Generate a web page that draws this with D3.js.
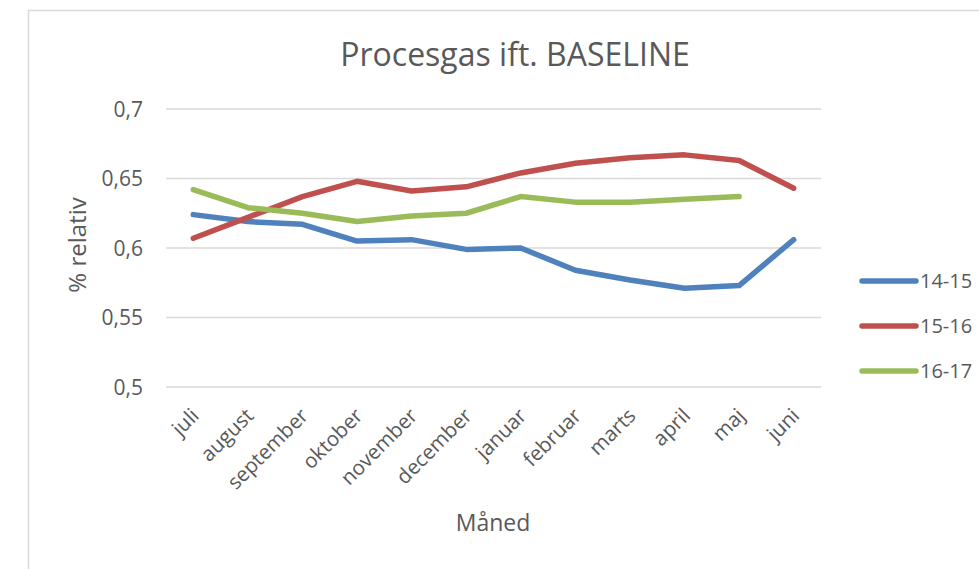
<!DOCTYPE html>
<html>
<head>
<meta charset="utf-8">
<script src="https://cdn.jsdelivr.net/npm/d3@7"></script>
<style>
  body { margin: 0; background: #fff; }
  text { font-family: "Open Sans", sans-serif; fill: #595959; }
</style>
</head>
<body>
<div id="container"></div>
<script>
const months = ["juli", "august", "september", "oktober", "november", "december",
    "januar", "februar", "marts", "april", "maj", "juni"];

const s1415 = [0.624, 0.619, 0.617, 0.605, 0.606, 0.599, 0.600, 0.584, 0.577, 0.571, 0.573, 0.606];
const s1516 = [0.607, 0.622, 0.637, 0.648, 0.641, 0.644, 0.654, 0.661, 0.665, 0.667, 0.663, 0.643];
const s1617 = [0.642, 0.629, 0.625, 0.619, 0.623, 0.625, 0.637, 0.633, 0.633, 0.635, 0.637];

const seriesNames = ["14-15", "15-16", "16-17"];
const yTicks = [0.5, 0.55, 0.6, 0.65, 0.7];

const colors = {
    "14-15": "#4f81bd",
    "15-16": "#c0504d",
    "16-17": "#9bbb59"
};

const series = [
    { name: "14-15", values: s1415 },
    { name: "15-16", values: s1516 },
    { name: "16-17", values: s1617 }
];

var width = 979,
    height = 569;

const svg = d3.select('#container')
    .append('svg')
        .attr('width', width)
        .attr('height', height);

// chart frame
svg.append("rect")
    .attr("x", 28.5)
    .attr("y", 10.5)
    .attr("width", 980)
    .attr("height", 600)
    .attr("fill", "#fff")
    .attr("stroke", "#d9d9d9")
    .attr("stroke-width", 1.5);

var plot = { left: 166, right: 821, top: 109, bottom: 387 };

var x = d3.scaleBand()
    .domain(months)
    .range([plot.left, plot.right]);

var y = d3.scaleLinear()
    .domain([0.5, 0.7])
    .range([plot.bottom, plot.top]);

var fmt = d => String(+d.toFixed(2)).replace(".", ",");

// gridlines
svg.append("g")
    .selectAll("line")
    .data(yTicks)
    .join("line")
        .attr("x1", plot.left)
        .attr("x2", plot.right)
        .attr("y1", d => y(d))
        .attr("y2", d => y(d))
        .attr("stroke", "#d9d9d9")
        .attr("stroke-width", 1.5);

// y tick labels
svg.append("g")
    .selectAll("text")
    .data(yTicks)
    .join("text")
        .attr("x", 143)
        .attr("y", d => y(d))
        .attr("dy", "0.36em")
        .attr("text-anchor", "end")
        .style("font-size", "21px")
        .text(fmt);

// x tick labels
svg.append("g")
    .selectAll("text")
    .data(months)
    .join("text")
        .attr("transform", d => "translate(" + (x(d) + x.bandwidth() / 2 + 7) + ",417) rotate(-45)")
        .attr("text-anchor", "end")
        .style("font-size", "20.5px")
        .text(d => d);

// lines
var line = d3.line()
    .x((d, i) => x(months[i]) + x.bandwidth() / 2)
    .y(d => y(d));

svg.append("g")
    .selectAll("path")
    .data(series)
    .join("path")
        .attr("d", d => line(d.values))
        .attr("fill", "none")
        .attr("stroke", d => colors[d.name])
        .attr("stroke-width", 5.5)
        .attr("stroke-linecap", "round")
        .attr("stroke-linejoin", "round");

// title
svg.append("text")
    .attr("x", 515)
    .attr("y", 66)
    .attr("text-anchor", "middle")
    .style("font-size", "32px")
    .text("Procesgas ift. BASELINE");

// axis titles
svg.append("text")
    .attr("transform", "translate(86,245) rotate(-90)")
    .attr("text-anchor", "middle")
    .style("font-size", "24px")
    .text("% relativ");

svg.append("text")
    .attr("x", 493)
    .attr("y", 531)
    .attr("text-anchor", "middle")
    .style("font-size", "23px")
    .text("Måned");

// legend
var legend = svg.append("g")
    .selectAll("g")
    .data(seriesNames)
    .join("g")
        .attr("transform", (d, i) => "translate(862," + (281 + i * 45) + ")");

legend.append("line")
    .attr("x1", 0)
    .attr("x2", 54)
    .attr("stroke", d => colors[d])
    .attr("stroke-width", 5.5)
    .attr("stroke-linecap", "round");

legend.append("text")
    .attr("x", 58)
    .attr("dy", "0.36em")
    .style("font-size", "20px")
    .text(d => d);
</script>
</body>
</html>
